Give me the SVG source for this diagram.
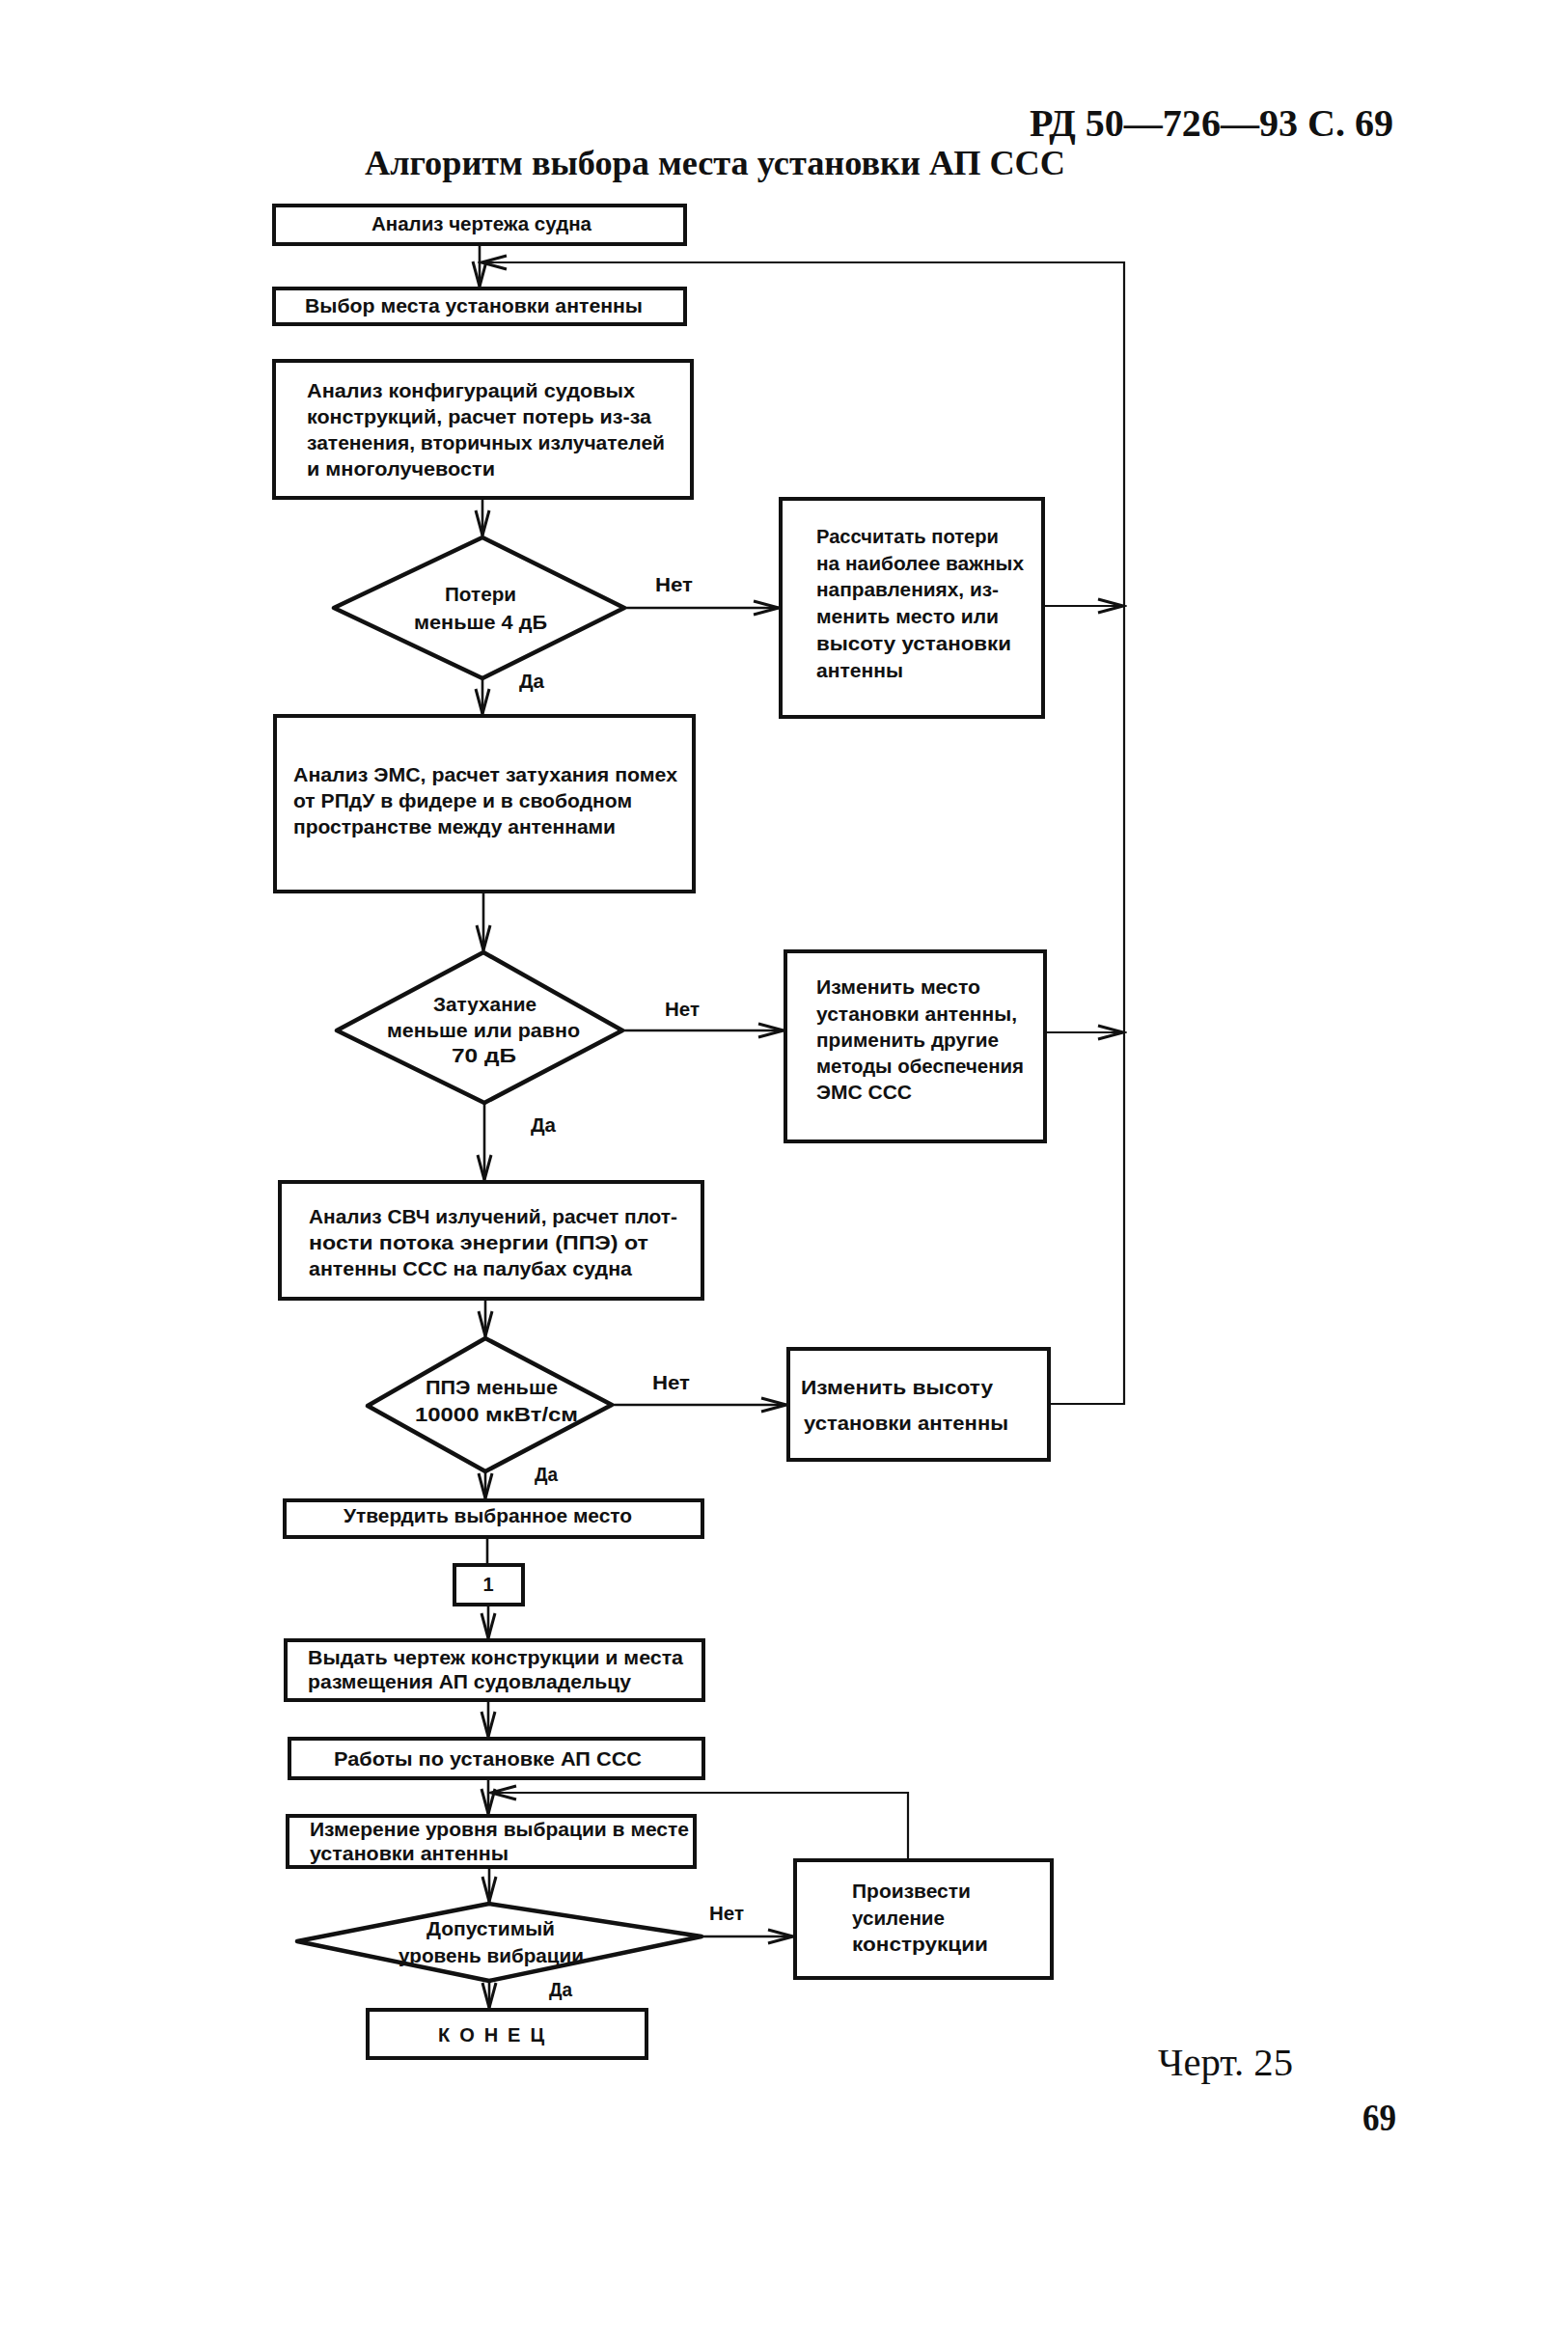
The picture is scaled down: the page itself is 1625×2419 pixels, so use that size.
<svg xmlns="http://www.w3.org/2000/svg" width="1625" height="2419" viewBox="0 0 1625 2419">
<style>
.bx{fill:#fff;stroke:#111;stroke-width:4}
.dm{fill:#fff;stroke:#111;stroke-width:4.5;stroke-linejoin:round}
.t{font-family:"Liberation Sans",Arial,sans-serif;font-weight:bold;font-size:20px;fill:#111}
.lbl{font-family:"Liberation Sans",Arial,sans-serif;font-weight:bold;font-size:21px;fill:#111}
.ser{font-family:"Liberation Serif","Times New Roman",serif;fill:#111}
.c{fill:none;stroke:#111;stroke-width:2.6}
.lp{fill:none;stroke:#111;stroke-width:2.2}
</style>
<defs>
<marker id="ar" markerUnits="userSpaceOnUse" markerWidth="32" markerHeight="20" refX="28" refY="10" orient="auto">
<path d="M2,3 L28,10 L2,17" fill="none" stroke="#111" stroke-width="3"/>
</marker>
</defs>
<rect width="1625" height="2419" fill="#fff"/>

<text class="ser" x="1067" y="141" font-size="40" font-weight="bold" textLength="377" lengthAdjust="spacingAndGlyphs">РД 50—726—93 С. 69</text>
<text class="ser" x="378" y="181" font-size="36" font-weight="bold" textLength="726" lengthAdjust="spacingAndGlyphs">Алгоритм выбора места установки АП ССС</text>

<g id="connectors">
<path class="c" d="M497,253 V297" marker-end="url(#ar)"/>
<path class="lp" d="M1087,1455 H1165 V272 H499" marker-end="url(#ar)"/>
<path class="lp" d="M1081,628 H1164" marker-end="url(#ar)"/>
<path class="lp" d="M1083,1070 H1164" marker-end="url(#ar)"/>
<path class="c" d="M500,516 V555" marker-end="url(#ar)"/>
<path class="c" d="M647,630 H807" marker-end="url(#ar)"/>
<path class="c" d="M500,703 V740" marker-end="url(#ar)"/>
<path class="c" d="M501,924 V985" marker-end="url(#ar)"/>
<path class="c" d="M645,1068 H812" marker-end="url(#ar)"/>
<path class="c" d="M502,1143 V1223" marker-end="url(#ar)"/>
<path class="c" d="M503,1346 V1385" marker-end="url(#ar)"/>
<path class="c" d="M634,1456 H815" marker-end="url(#ar)"/>
<path class="c" d="M503,1525 V1553" marker-end="url(#ar)"/>
<path class="c" d="M505,1593 V1622"/>
<path class="c" d="M506,1663 V1698" marker-end="url(#ar)"/>
<path class="c" d="M506,1762 V1800" marker-end="url(#ar)"/>
<path class="c" d="M506,1843 V1880" marker-end="url(#ar)"/>
<path class="lp" d="M941,1928 V1858 H509" marker-end="url(#ar)"/>
<path class="c" d="M507,1935 V1971" marker-end="url(#ar)"/>
<path class="c" d="M727,2007 H822" marker-end="url(#ar)"/>
<path class="c" d="M507,2053 V2081" marker-end="url(#ar)"/>
</g>

<g id="labels">
<text class="lbl" x="679" y="613" textLength="39" lengthAdjust="spacingAndGlyphs">Нет</text>
<text class="lbl" x="538" y="713" textLength="26" lengthAdjust="spacingAndGlyphs">Да</text>
<text class="lbl" x="689" y="1053" textLength="36" lengthAdjust="spacingAndGlyphs">Нет</text>
<text class="lbl" x="550" y="1173" textLength="26" lengthAdjust="spacingAndGlyphs">Да</text>
<text class="lbl" x="676" y="1440" textLength="39" lengthAdjust="spacingAndGlyphs">Нет</text>
<text class="lbl" x="554" y="1535" textLength="24" lengthAdjust="spacingAndGlyphs">Да</text>
<text class="lbl" x="735" y="1990" textLength="36" lengthAdjust="spacingAndGlyphs">Нет</text>
<text class="lbl" x="569" y="2069" textLength="24" lengthAdjust="spacingAndGlyphs">Да</text>
</g>

<g id="n1"><rect class="bx" x="284" y="213" width="426" height="40"/>
<text class="t" x="385" y="239" textLength="228" lengthAdjust="spacingAndGlyphs">Анализ чертежа судна</text></g>

<g id="n2"><rect class="bx" x="284" y="299" width="426" height="37"/>
<text class="t" x="316" y="324" textLength="350" lengthAdjust="spacingAndGlyphs">Выбор места установки антенны</text></g>

<g id="n3"><rect class="bx" x="284" y="374" width="433" height="142"/>
<text class="t" x="318" y="412" textLength="340" lengthAdjust="spacingAndGlyphs">Анализ конфигураций судовых</text>
<text class="t" x="318" y="439" textLength="357" lengthAdjust="spacingAndGlyphs">конструкций, расчет потерь из-за</text>
<text class="t" x="318" y="466" textLength="371" lengthAdjust="spacingAndGlyphs">затенения, вторичных излучателей</text>
<text class="t" x="318" y="493" textLength="195" lengthAdjust="spacingAndGlyphs">и многолучевости</text></g>

<g id="d1"><polygon class="dm" points="500,557 647,630 500,703 346,630"/>
<text class="t" x="461" y="623" textLength="74" lengthAdjust="spacingAndGlyphs">Потери</text>
<text class="t" x="429" y="652" textLength="138" lengthAdjust="spacingAndGlyphs">меньше 4 дБ</text></g>

<g id="r1"><rect class="bx" x="809" y="517" width="272" height="226"/>
<text class="t" x="846" y="563" textLength="189" lengthAdjust="spacingAndGlyphs">Рассчитать потери</text>
<text class="t" x="846" y="591" textLength="215" lengthAdjust="spacingAndGlyphs">на наиболее важных</text>
<text class="t" x="846" y="618" textLength="189" lengthAdjust="spacingAndGlyphs">направлениях, из-</text>
<text class="t" x="846" y="646" textLength="189" lengthAdjust="spacingAndGlyphs">менить место или</text>
<text class="t" x="846" y="674" textLength="202" lengthAdjust="spacingAndGlyphs">высоту  установки</text>
<text class="t" x="846" y="702" textLength="90" lengthAdjust="spacingAndGlyphs">антенны</text></g>

<g id="n4"><rect class="bx" x="285" y="742" width="434" height="182"/>
<text class="t" x="304" y="810" textLength="398" lengthAdjust="spacingAndGlyphs">Анализ ЭМС, расчет затухания помех</text>
<text class="t" x="304" y="837" textLength="351" lengthAdjust="spacingAndGlyphs">от РПдУ в фидере и в свободном</text>
<text class="t" x="304" y="864" textLength="334" lengthAdjust="spacingAndGlyphs">пространстве между антеннами</text></g>

<g id="d2"><polygon class="dm" points="501,987 645,1068 502,1143 349,1068"/>
<text class="t" x="449" y="1048" textLength="107" lengthAdjust="spacingAndGlyphs">Затухание</text>
<text class="t" x="401" y="1075" textLength="200" lengthAdjust="spacingAndGlyphs">меньше или  равно</text>
<text class="t" x="468" y="1101" textLength="67" lengthAdjust="spacingAndGlyphs">70  дБ</text></g>

<g id="r2"><rect class="bx" x="814" y="986" width="269" height="197"/>
<text class="t" x="846" y="1030" textLength="170" lengthAdjust="spacingAndGlyphs">Изменить место</text>
<text class="t" x="846" y="1058" textLength="208" lengthAdjust="spacingAndGlyphs">установки антенны,</text>
<text class="t" x="846" y="1085" textLength="189" lengthAdjust="spacingAndGlyphs">применить другие</text>
<text class="t" x="846" y="1112" textLength="215" lengthAdjust="spacingAndGlyphs">методы обеспечения</text>
<text class="t" x="846" y="1139" textLength="99" lengthAdjust="spacingAndGlyphs">ЭМС ССС</text></g>

<g id="n5"><rect class="bx" x="290" y="1225" width="438" height="121"/>
<text class="t" x="320" y="1268" textLength="382" lengthAdjust="spacingAndGlyphs">Анализ СВЧ излучений, расчет плот-</text>
<text class="t" x="320" y="1295" textLength="352" lengthAdjust="spacingAndGlyphs">ности  потока энергии (ППЭ)  от</text>
<text class="t" x="320" y="1322" textLength="335" lengthAdjust="spacingAndGlyphs">антенны ССС на  палубах судна</text></g>

<g id="d3"><polygon class="dm" points="503,1387 634,1456 503,1525 381,1457"/>
<text class="t" x="441" y="1445" textLength="137" lengthAdjust="spacingAndGlyphs">ППЭ меньше</text>
<text class="t" x="430" y="1473" textLength="169" lengthAdjust="spacingAndGlyphs">10000 мкВт/см</text></g>

<g id="r3"><rect class="bx" x="817" y="1398" width="270" height="115"/>
<text class="t" x="830" y="1445" textLength="199" lengthAdjust="spacingAndGlyphs">Изменить   высоту</text>
<text class="t" x="833" y="1482" textLength="212" lengthAdjust="spacingAndGlyphs">установки  антенны</text></g>

<g id="n6"><rect class="bx" x="295" y="1555" width="433" height="38"/>
<text class="t" x="356" y="1578" textLength="299" lengthAdjust="spacingAndGlyphs">Утвердить выбранное место</text></g>

<g id="k1"><rect class="bx" x="471" y="1622" width="71" height="41"/>
<text class="t" x="506" y="1649" text-anchor="middle">1</text></g>

<g id="n7"><rect class="bx" x="296" y="1700" width="433" height="62"/>
<text class="t" x="319" y="1725" textLength="389" lengthAdjust="spacingAndGlyphs">Выдать чертеж конструкции и места</text>
<text class="t" x="319" y="1750" textLength="335" lengthAdjust="spacingAndGlyphs">размещения АП судовладельцу</text></g>

<g id="n8"><rect class="bx" x="300" y="1802" width="429" height="41"/>
<text class="t" x="346" y="1830" textLength="319" lengthAdjust="spacingAndGlyphs">Работы по установке АП ССС</text></g>

<g id="n9"><rect class="bx" x="298" y="1882" width="422" height="53"/>
<text class="t" x="321" y="1903" textLength="393" lengthAdjust="spacingAndGlyphs">Измерение уровня выбрации в месте</text>
<text class="t" x="321" y="1928" textLength="206" lengthAdjust="spacingAndGlyphs">установки антенны</text></g>

<g id="d4"><polygon class="dm" points="507,1973 727,2007 507,2053 308,2012"/>
<text class="t" x="442" y="2006" textLength="133" lengthAdjust="spacingAndGlyphs">Допустимый</text>
<text class="t" x="413" y="2034" textLength="192" lengthAdjust="spacingAndGlyphs">уровень вибрации</text></g>

<g id="r4"><rect class="bx" x="824" y="1928" width="266" height="122"/>
<text class="t" x="883" y="1967" textLength="123" lengthAdjust="spacingAndGlyphs">Произвести</text>
<text class="t" x="883" y="1995" textLength="96" lengthAdjust="spacingAndGlyphs">усиление</text>
<text class="t" x="883" y="2022" textLength="141" lengthAdjust="spacingAndGlyphs">конструкции</text></g>

<g id="end"><rect class="bx" x="381" y="2083" width="289" height="50"/>
<text class="t" x="454" y="2116" font-size="23" textLength="110" lengthAdjust="spacing">КОНЕЦ</text></g>

<text class="ser" x="1200" y="2151" font-size="40" textLength="140" lengthAdjust="spacingAndGlyphs">Черт. 25</text>
<text class="ser" x="1412" y="2208" font-size="40" font-weight="bold" textLength="35" lengthAdjust="spacingAndGlyphs">69</text>
</svg>
